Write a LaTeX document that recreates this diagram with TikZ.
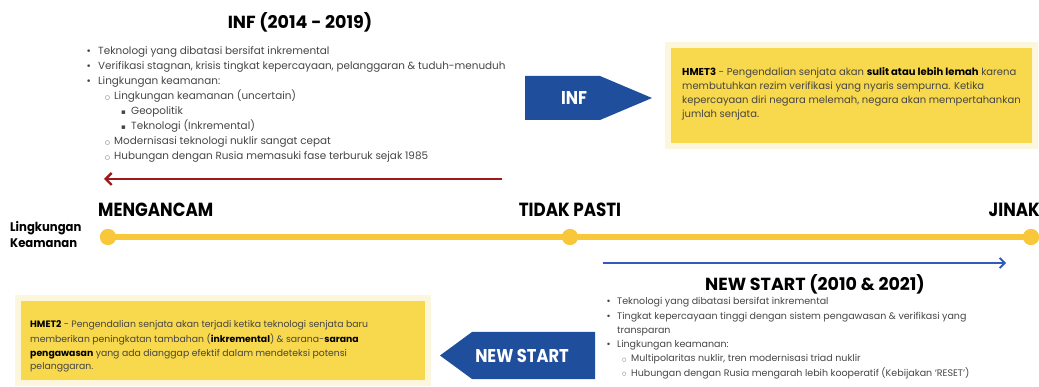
\documentclass[tikz,border=0pt]{standalone}
\usepackage{fontspec}
\usepackage{graphicx}
\setmainfont{Poppins}
\newfontfamily\symfont{DejaVu Sans}
\usetikzlibrary{arrows.meta}

\definecolor{boxyellow}{HTML}{F8D84C}
\definecolor{glow}{HTML}{FBF6DC}
\definecolor{lineyellow}{HTML}{F8C83A}
\definecolor{navy}{HTML}{1F4E9C}
\definecolor{darkred}{HTML}{9E1A1A}
\definecolor{linkblue}{HTML}{2F5CB8}
\definecolor{bodygray}{HTML}{454545}

% bullet glyph in a box of given width: #1 width, #2 glyph size, #3 glyph
\newcommand{\bul}[3]{\makebox[#1][l]{\symfont\fontsize{#2}{#2}\selectfont\raisebox{0.3pt}{#3}}}
% condensed bold lettering
\newcommand{\narrow}[1]{\scalebox{0.88}[1]{#1}}

\tikzset{
  inflist/.style={anchor=base west, inner sep=0pt, text=bodygray,
    font=\fontsize{10.4}{12}\selectfont},
  nslist/.style={anchor=base west, inner sep=0pt, text=bodygray,
    font=\fontsize{9.5}{11}\selectfont},
  hthree/.style={anchor=base west, inner sep=0pt, text=bodygray,
    font=\fontsize{10}{12}\selectfont},
  htwo/.style={anchor=base west, inner sep=0pt, text=bodygray,
    font=\fontsize{9.3}{11}\selectfont},
  heading/.style={inner sep=0pt, font=\fontsize{17.5}{20}\bfseries\selectfont},
  scalelabel/.style={inner sep=0pt, font=\fontsize{19}{21}\bfseries\selectfont},
  tagtext/.style={inner sep=0pt, text=white, font=\fontsize{18.5}{20}\bfseries\selectfont},
  notebox/.style={fill=boxyellow, draw=glow, line width=6pt},
  dot/.style={circle, fill=lineyellow, minimum size=16pt, inner sep=0pt},
}

\begin{document}
\begin{tikzpicture}[x=1pt, y=-1pt]
\useasboundingbox (0,0) rectangle (1039,387);

% ---------- INF block ----------
\node[heading] (inftitle) at (300,22) {INF (2014 - 2019)};
\node[inflist] (inf1) at (86,55)  {\bul{12pt}{9}{•}Teknologi yang dibatasi bersifat inkremental};
\node[inflist] (inf2) at (86,70)  {\bul{12pt}{9}{•}Verifikasi stagnan, krisis tingkat kepercayaan, pelanggaran \& tuduh-menuduh};
\node[inflist] (inf3) at (86,85)  {\bul{12pt}{9}{•}Lingkungan keamanan:};
\node[inflist] (inf4) at (105,100) {\bul{9pt}{5.5}{○}Lingkungan keamanan (uncertain)};
\node[inflist] (inf5) at (121,115) {\bul{10pt}{7}{▪}Geopolitik};
\node[inflist] (inf6) at (121,130) {\bul{10pt}{7}{▪}Teknologi (Inkremental)};
\node[inflist] (inf7) at (105,145) {\bul{9pt}{5.5}{○}Modernisasi teknologi nuklir sangat cepat};
\node[inflist] (inf8) at (105,160) {\bul{9pt}{5.5}{○}Hubungan dengan Rusia memasuki fase terburuk sejak 1985};

\coordinate (redstart) at (502,179);
\coordinate (redend) at (104,179);
\draw[darkred, line width=2.4pt, -{Straight Barb[length=6pt,width=12pt,line width=2.4pt]}] (redstart) -- (redend);

% INF tag pointing right
\fill[navy] (525,76) -- (600,76) -- (652,98) -- (600,120) -- (525,120) -- cycle;
\node[tagtext] (inftag) at (574,98) {\narrow{INF}};

% HMET3 note
\draw[notebox] (668,45) rectangle (1035,146);
\node[hthree] (h3a) at (682,76)  {\textbf{\color{black}HMET3} - Pengendalian senjata akan \textbf{\color{black}sulit atau lebih lemah} karena};
\node[hthree] (h3b) at (682,90)  {membutuhkan rezim verifikasi yang nyaris sempurna. Ketika};
\node[hthree] (h3c) at (682,104) {kepercayaan diri negara melemah, negara akan mempertahankan};
\node[hthree] (h3d) at (682,118) {jumlah senjata.};

% ---------- scale of the security environment ----------
\node[anchor=west, inner sep=0pt, align=left, font=\fontsize{12.5}{16}\bfseries\selectfont] (envlabel) at (10,235) {\scalebox{0.93}[1]{Lingkungan}\\\scalebox{0.93}[1]{Keamanan}};
\node[scalelabel, anchor=west] (threat) at (98,210) {\narrow{MENGANCAM}};
\node[scalelabel] (uncertain) at (570,210) {\narrow{TIDAK PASTI}};
\node[scalelabel, anchor=east] (benign) at (1040,210) {\narrow{JINAK}};

\node[dot] (d1) at (108,237) {};
\node[dot] (d2) at (570,237) {};
\node[dot] (d3) at (1031,237) {};
\draw[lineyellow, line width=6pt] (d1.center) -- (d2.center) -- (d3.center);
\node[dot] at (d1) {};
\node[dot] at (d2) {};
\node[dot] at (d3) {};

\coordinate (bluestart) at (603,263);
\coordinate (blueend) at (1006,263);
\draw[linkblue, line width=1.8pt, -{Straight Barb[length=5pt,width=10pt,line width=1.8pt]}] (bluestart) -- (blueend);

% ---------- NEW START block ----------
\node[heading] (nstitle) at (815,284) {NEW START (2010 \& 2021)};
\node[nslist] (ns1) at (606,305) {\bul{11pt}{8.5}{•}Teknologi yang dibatasi bersifat inkremental};
\node[nslist] (ns2) at (606,319.5) {\bul{11pt}{8.5}{•}Tingkat kepercayaan tinggi dengan sistem pengawasan \& verifikasi yang};
\node[nslist] (ns3) at (617,333.5) {transparan};
\node[nslist] (ns4) at (606,348) {\bul{11pt}{8.5}{•}Lingkungan keamanan:};
\node[nslist] (ns5) at (622,362) {\bul{9pt}{5}{○}Multipolaritas nuklir, tren modernisasi triad nuklir};
\node[nslist] (ns6) at (622,376) {\bul{9pt}{5}{○}Hubungan dengan Rusia mengarah lebih kooperatif (Kebijakan ‘RESET’)};

% NEW START tag pointing left
\fill[navy] (595,332) -- (472,332) -- (440,355.5) -- (472,379) -- (595,379) -- cycle;
\node[tagtext] (nstag) at (522,355.5) {\narrow{NEW START}};

% HMET2 note
\draw[notebox] (18,298) rectangle (428,383);
\node[htwo] (h2a) at (30,328) {\textbf{\color{black}HMET2} - Pengendalian senjata akan terjadi ketika teknologi senjata baru};
\node[htwo] (h2b) at (30,342) {memberikan peningkatan tambahan (\textbf{\color{black}inkremental}) \& sarana-\textbf{\color{black}sarana}};
\node[htwo] (h2c) at (30,356) {\textbf{\color{black}pengawasan} yang ada dianggap efektif dalam mendeteksi potensi};
\node[htwo] (h2d) at (30,370) {pelanggaran.};
\end{tikzpicture}
\end{document}
